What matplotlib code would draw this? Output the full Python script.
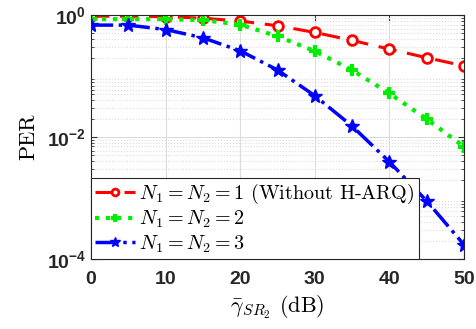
import matplotlib
matplotlib.use("Agg")
import matplotlib.pyplot as plt
import numpy as np

plt.rcParams['mathtext.fontset'] = 'cm'
plt.rcParams['mathtext.default'] = 'it'

# SNR values (dB) and PER for each H-ARQ setting
snr = [0, 5, 10, 15, 20, 25, 30, 35, 40, 45, 50]
per_n1 = [0.96, 0.96, 0.945, 0.89, 0.80, 0.67, 0.52, 0.385, 0.277, 0.20, 0.147]
per_n2 = [0.86, 0.86, 0.86, 0.83, 0.70, 0.45, 0.257, 0.125, 0.052, 0.0197, 0.0069]
per_n3 = [0.686, 0.686, 0.58, 0.425, 0.26, 0.126, 0.0475, 0.0151, 0.0039, 8.9e-4, 1.7e-4]

labels = [r'$N_1 = N_2 = 1$ (Without H-ARQ)',
          r'$N_1 = N_2 = 2$',
          r'$N_1 = N_2 = 3$']

fig = plt.figure(figsize=(4.76, 3.29), dpi=100)
ax = fig.add_axes([0.191, 0.213, 0.784, 0.741])

ax.semilogy(snr, per_n1, 'r--o', lw=2.2, ms=7, mfc='white', mew=2, dashes=(6, 3.5), label=labels[0])
ax.semilogy(snr, per_n2, color='#00ee00', ls=':', marker='+', lw=3, ms=9, mew=3, label=labels[1])
ax.semilogy(snr, per_n3, 'b-.', marker='*', lw=2.5, ms=10, label=labels[2])

ax.set_xlim(0, 50)
ax.set_ylim(1e-4, 1)
ax.set_xticks([0, 10, 20, 30, 40, 50])
ax.set_yticks([1e-4, 1e-2, 1])

ax.grid(True, which='major', color='#dcdcdc', lw=0.8)
ax.grid(True, which='minor', color='#dcdcdc', ls=':', lw=0.8)
ax.tick_params(which='both', direction='in', top=True, right=True, color='#333333')
ax.tick_params(which='major', length=4)
ax.tick_params(which='minor', length=2)
ax.tick_params(axis='x', pad=9)
for t in ax.get_xticklabels() + ax.get_yticklabels():
    t.set_fontfamily('Liberation Sans')
    t.set_fontweight('bold')
    t.set_fontsize(14)
    t.set_color('#262626')
for s in ax.spines.values():
    s.set_color('#262626')
    s.set_linewidth(0.8)

ax.set_ylabel('PER', family='cmr10', fontsize=16, labelpad=6)
ax.set_xlabel(r'$\bar{\gamma}_{SR_2}$ (dB)', family='cmr10', fontsize=16, labelpad=4)

leg = ax.legend(loc='lower left', prop={'family': 'cmr10', 'size': 14.5},
                fancybox=False, framealpha=1, edgecolor='#262626',
                borderaxespad=0, handlelength=2.0, handletextpad=0.2,
                labelspacing=0.15, borderpad=0.2, markerscale=0.7)
leg.get_frame().set_linewidth(0.8)

fig.savefig('out.png', dpi=100)
